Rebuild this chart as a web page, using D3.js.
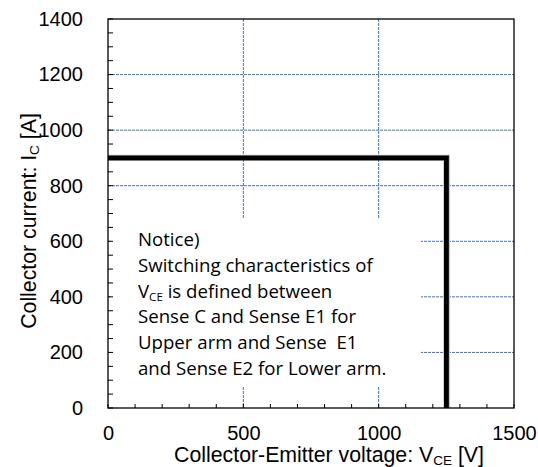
<!DOCTYPE html>
<html><head><meta charset="utf-8">
<script src="https://cdn.jsdelivr.net/npm/d3@7"></script>
<style>html,body{margin:0;padding:0;background:#fff;}</style>
</head><body>
<svg id="c" width="538" height="467"></svg>
<script>
// ---- data ----
const xTickValues = [0, 500, 1000, 1500];
const yTickValues = [0, 200, 400, 600, 800, 1000, 1200, 1400];
const xMinorTicks = d3.range(0, 1501, 100);
const yMinorTicks = d3.range(0, 1401, 50);
const xGridValues = [500, 1000];
const yGridValues = [200, 400, 600, 800, 1000, 1200];
const soaVoltage = [0, 1250, 1250];
const soaCurrent = [900, 900, 0];
const noticeLines = [
  ["Notice)"],
  ["Switching characteristics of"],
  ["V", "CE", " is defined between"],
  ["Sense C and Sense E1 for"],
  ["Upper arm and Sense  E1"],
  ["and Sense E2 for Lower arm."]
];

// ---- layout ----
const svg = d3.select("#c");
const L = 108, R = 514, T = 19, B = 408;
const x = d3.scaleLinear().domain([0, 1500]).range([L, R]);
const y = d3.scaleLinear().domain([0, 1400]).range([B, T]);
const tickFont = "'Liberation Sans', Arial, sans-serif";

// grid
const grid = svg.append("g").attr("stroke", "#4470bd").attr("stroke-width", 1).attr("stroke-dasharray", "3,1");
grid.selectAll("line.gx").data(xGridValues).join("line")
  .attr("x1", d => x(d)).attr("x2", d => x(d)).attr("y1", T).attr("y2", B);
grid.selectAll("line.gy").data(yGridValues).join("line")
  .attr("x1", L).attr("x2", R).attr("y1", d => y(d)).attr("y2", d => y(d));

// notice box (white background hides grid)
svg.append("rect").attr("x", L + 2).attr("y", 218).attr("width", 421 - L - 2).attr("height", 387 - 218).attr("fill", "#fff");

const nt = svg.append("g").attr("font-family", "'Open Sans', Lato, sans-serif").attr("font-size", 17).attr("fill", "#000")
  .style("white-space", "pre");
const noticeTexts = [];
noticeLines.forEach((parts, i) => {
  const t = nt.append("text").attr("x", 138).attr("y", 245.7 + i * 25.9).attr("xml:space", "preserve");
  if (parts.length === 1) t.text(parts[0]);
  else {
    t.append("tspan").text(parts[0]);
    t.append("tspan").attr("font-size", 11).attr("dy", 3).text(parts[1]);
    t.append("tspan").attr("dy", -3).text(parts[2]);
  }
  noticeTexts.push(t);
});
// fit font so that the second line spans ~235px like the original
const w = noticeTexts[1].node().getComputedTextLength();
const fs = 17 * 235 / w;
nt.attr("font-size", fs);
nt.selectAll("tspan").filter(function(){ return d3.select(this).text() === "CE"; }).attr("font-size", fs * 0.62);

// SOA line
const line = d3.line().x(d => x(d[0])).y(d => y(d[1]));
const pts = soaVoltage.map((v, i) => [v, soaCurrent[i]]);
svg.append("path").attr("d", line(pts)).attr("fill", "none").attr("stroke", "#c4c4c4").attr("stroke-width", 5)
  .attr("transform", "translate(1.2,-0.6)");
svg.append("path").attr("d", line(pts)).attr("fill", "none").attr("stroke", "#000").attr("stroke-width", 5)
  .attr("stroke-linejoin", "miter");

// frame
svg.append("rect").attr("x", L).attr("y", T).attr("width", R - L).attr("height", B - T)
  .attr("fill", "none").attr("stroke", "#000").attr("stroke-width", 1.3);

// minor ticks
svg.append("g").selectAll("line").data(xMinorTicks).join("line")
  .attr("x1", d => x(d)).attr("x2", d => x(d)).attr("y1", B).attr("y2", B - 4)
  .attr("stroke", "#000").attr("stroke-width", 1);
svg.append("g").selectAll("line").data(yMinorTicks).join("line")
  .attr("x1", L).attr("x2", L + 5).attr("y1", d => y(d)).attr("y2", d => y(d))
  .attr("stroke", "#000").attr("stroke-width", 1);

// axes labels via d3 axes (domain/ticks hidden)
const xAxis = svg.append("g").attr("transform", `translate(0,${B})`)
  .call(d3.axisBottom(x).tickValues(xTickValues).tickSize(0).tickPadding(18).tickFormat(d3.format("d")));
const yAxis = svg.append("g").attr("transform", `translate(${L},0)`)
  .call(d3.axisLeft(y).tickValues(yTickValues).tickSize(0).tickPadding(25).tickFormat(d3.format("d")));
[xAxis, yAxis].forEach(a => {
  a.select(".domain").remove();
  a.selectAll("text").attr("font-family", tickFont).attr("font-size", 20).attr("fill", "#000");
});

// axis titles
const xt = svg.append("text").attr("x", 329).attr("y", 462).attr("text-anchor", "middle")
  .attr("font-family", tickFont).attr("font-size", 21.3).attr("fill", "#000");
xt.append("tspan").text("Collector-Emitter voltage: V");
xt.append("tspan").attr("font-size", 13.5).attr("dy", 2.5).text("CE");
xt.append("tspan").attr("dy", -2.5).text(" [V]");

const yt = svg.append("text").attr("transform", "translate(36,221) rotate(-90)").attr("text-anchor", "middle")
  .attr("font-family", tickFont).attr("font-size", 21.3).attr("fill", "#000");
yt.append("tspan").text("Collector current: I");
yt.append("tspan").attr("font-size", 13.5).attr("dy", 3).text("C");
yt.append("tspan").attr("dy", -3).text(" [A]");
</script>
</body></html>
